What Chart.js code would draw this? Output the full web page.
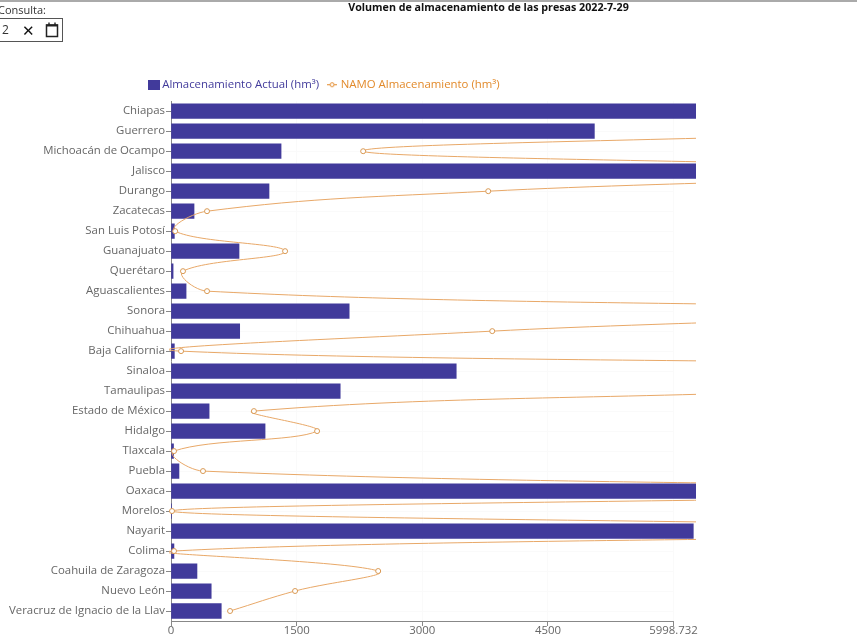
<!DOCTYPE html>
<html><head><meta charset="utf-8">
<style>
html,body{margin:0;padding:0;background:#fff;overflow:hidden;width:857px;height:636px;font-family:"Open Sans",sans-serif}
#wrap{position:absolute;left:0;top:0;width:857px;height:636px}
#top{position:absolute;left:0;top:0;width:857px;height:2px;background:#aaa}
#lab{position:absolute;left:-2px;top:3px;font-size:11px;color:#333;line-height:14px}
#box{position:absolute;left:-1px;top:18px;width:62px;height:22px;border:1px solid #555;background:#fff;font-size:12px;color:#333}
#box span{position:absolute;line-height:22px}
</style></head><body>
<div id="wrap"><canvas id="c" width="857" height="636"></canvas></div>
<div id="top"></div>
<div id="lab">Consulta:</div>
<div id="box"><span style="left:2px">2</span><span style="left:22px;font-size:15px;color:#111">✕</span>
<svg style="position:absolute;left:45px;top:3px" width="14" height="16"><rect x="1.5" y="3" width="11" height="11.5" fill="none" stroke="#222" stroke-width="1.5"/><path d="M1 3.5H13" stroke="#222" stroke-width="2"/><path d="M4 0.5V4M10 0.5V4" stroke="#222" stroke-width="1.4"/></svg></div>
<script src="https://cdn.jsdelivr.net/npm/chart.js@4"></script>
<script>
const categories=["Chiapas","Guerrero","Michoacán de Ocampo","Jalisco","Durango","Zacatecas","San Luis Potosí","Guanajuato","Querétaro","Aguascalientes","Sonora","Chihuahua","Baja California","Sinaloa","Tamaulipas","Estado de México","Hidalgo","Tlaxcala","Puebla","Oaxaca","Morelos","Nayarit","Colima","Coahuila de Zaragoza","Nuevo León","Veracruz de Ignacio de la Llav"];
const actual=[9000,5054,1314,7500,1170,275,40,812,25,180,2127,820,40,3405,2020,455,1123,30,95,8000,5,6235,35,310,480,600];
const namo=[14000,9000,2294,9500,3787,430,50,1362,143,430,9000,3835,120,14000,7500,990,1744,36,382,11000,12,11000,36,2473,1481,705];
const xTicks=[0,1500,3000,4500,5998.732];
const seriesNames=["Almacenamiento Actual (hm³)","NAMO Almacenamiento (hm³)"];
const chartTitle="Volumen de almacenamiento de las presas 2022-7-29";
const purple="#413a9b",orange="#e28a2b";
const font='"Open Sans"';
function mk(draw,w,h){const c=document.createElement('canvas');c.width=w;c.height=h;draw(c.getContext('2d'));return c;}
const m1=mk(g=>{g.fillStyle=purple;g.fillRect(0,0,12,10)},12,10);
const m2=mk(g=>{g.strokeStyle=orange;g.lineWidth=1;g.beginPath();g.moveTo(0,4.5);g.lineTo(10,4.5);g.stroke();g.fillStyle='#fff';g.beginPath();g.arc(5,4.5,2,0,7);g.fill();g.stroke();},10,9);
const clip={left:2,top:2,right:22.5,bottom:2};
const place={id:'place',afterLayout(ch){
 ch.legend.left=140.5;ch.legend.top=69;
 ch.titleBlock.left=488.5-200;ch.titleBlock.right=488.5+200;ch.titleBlock.top=2;
}};
new Chart(document.getElementById('c'),{
 data:{labels:categories,datasets:[
  {type:'line',label:seriesNames[1],data:namo,borderColor:'#e8a868',borderWidth:1,backgroundColor:'#fff',pointBackgroundColor:'#fff',pointBorderColor:'#d99a55',pointRadius:2.5,pointBorderWidth:1,tension:0.4,clip:clip,order:1},
  {type:'bar',label:seriesNames[0],data:actual,backgroundColor:purple,barThickness:14.6,clip:clip,order:2}
 ]},
 plugins:[place],
 options:{indexAxis:'y',responsive:false,animation:false,
  layout:{padding:{left:0,right:183.5,top:0,bottom:0}},
  elements:{line:{capBezierPoints:false}},
  plugins:{
   title:{display:true,text:chartTitle,color:'#111',font:{family:font,size:10.7,weight:'bold'},align:'center',padding:{top:0,bottom:57}},
   legend:{display:true,position:'top',align:'start',labels:{usePointStyle:true,pointStyleWidth:6,padding:10,font:{family:font,size:11.4},
     generateLabels(){return [
      {text:seriesNames[0],fontColor:purple,pointStyle:m1,hidden:false,datasetIndex:1,lineWidth:0},
      {text:seriesNames[1],fontColor:orange,pointStyle:m2,hidden:false,datasetIndex:0,lineWidth:0}];}}},
   tooltip:{enabled:false}
  },
  scales:{
   x:{type:'linear',min:0,max:5998.732,position:'bottom',
    afterBuildTicks(s){s.ticks=xTicks.map(v=>({value:v}));},
    afterFit(s){s.height=15;},
    border:{color:'#888',width:1},
    grid:{color:'#fafafa',drawOnChartArea:true,drawTicks:true,tickLength:5,tickColor:'#888'},
    ticks:{color:'#666',font:{family:font,size:11.4},padding:-2,maxRotation:0,autoSkip:false,callback:v=>String(v)}},
   y:{type:'category',offset:true,
    afterFit(s){s.width=171;},
    border:{color:'#888',width:1},
    grid:{offset:false,color:'#fafafa',tickLength:5,tickColor:'#888'},
    ticks:{color:'#666',font:{family:font,size:11.4},padding:1,autoSkip:false}}
  }
 }
});
</script></body></html>
